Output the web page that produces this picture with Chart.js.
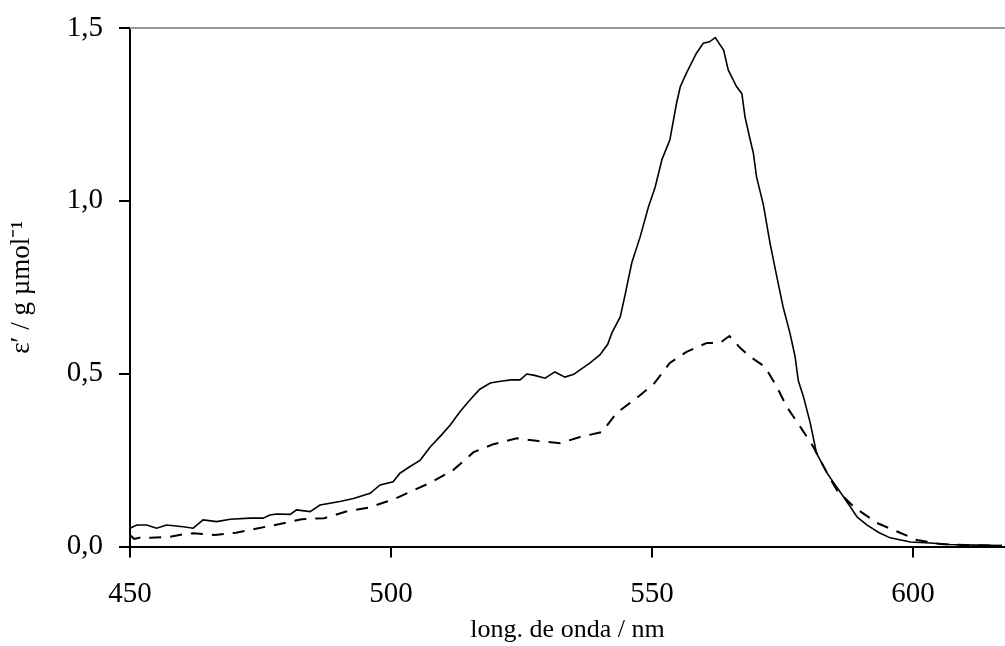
<!DOCTYPE html>
<html>
<head>
<meta charset="utf-8">
<script src="https://cdn.jsdelivr.net/npm/chart.js@4"></script>
<style>
  body { margin: 0; background: #fff; }
  #wrap { width: 1005px; height: 646px; }
</style>
</head>
<body>
<div id="wrap"><canvas id="spectrum"></canvas></div>
<script>
// wavelength (nm) / value pairs
const solidNm = [450, 451.3, 453.2, 455.1, 457, 460.2, 462.1, 464, 466.6, 469.2, 473, 475.5, 476.8, 478.1, 480.7, 481.9, 484.5, 486.4, 490.2, 492.8, 496, 497.9, 500.4, 501.7, 503.5, 505.6, 507.5, 509.5, 511.3, 513.2, 515.1, 517, 519, 521, 523, 524.7, 526, 527.5, 529.5, 531.4, 533.3, 535, 536.2, 538, 540, 541.5, 542.3, 543.9, 544.9, 546.1, 547.7, 549.3, 550.6, 551.9, 553.4, 554.7, 555.4, 556.6, 558.5, 559.8, 561, 562.1, 563.7, 564.6, 566.2, 567.2, 567.8, 568.8, 569.4, 570, 571.3, 572.6, 573.9, 575.1, 576.4, 577.4, 578, 579, 580.3, 581.5, 583.5, 584.8, 586.7, 589.3, 591.2, 593.5, 595.6, 599.5, 603.3, 607, 612, 617];
const solidVal = [0.053, 0.062, 0.062, 0.053, 0.062, 0.057, 0.053, 0.077, 0.072, 0.079, 0.082, 0.082, 0.091, 0.094, 0.093, 0.106, 0.101, 0.12, 0.13, 0.139, 0.154, 0.178, 0.187, 0.212, 0.23, 0.25, 0.288, 0.32, 0.351, 0.39, 0.424, 0.455, 0.473, 0.478, 0.482, 0.482, 0.499, 0.495, 0.487, 0.505, 0.49, 0.498, 0.511, 0.53, 0.554, 0.585, 0.618, 0.664, 0.733, 0.82, 0.895, 0.982, 1.04, 1.12, 1.176, 1.283, 1.33, 1.37, 1.427, 1.456, 1.46, 1.472, 1.436, 1.378, 1.33, 1.31, 1.243, 1.176, 1.138, 1.07, 0.99, 0.877, 0.78, 0.693, 0.618, 0.549, 0.48, 0.433, 0.357, 0.27, 0.213, 0.184, 0.143, 0.085, 0.062, 0.04, 0.025, 0.013, 0.01, 0.006, 0.004, 0.003];

const dashNm = [450, 450.8, 452.5, 454, 457.7, 460, 462.1, 464, 466.3, 470.3, 474.6, 478.7, 482.9, 487.2, 491.4, 495.8, 499.2, 501, 503.6, 507.5, 511.9, 515.8, 519.6, 524.1, 528.2, 532.4, 536.2, 540.4, 543.2, 547.4, 550.3, 553.4, 556.6, 560.5, 563, 564.8, 566.9, 568.8, 571.6, 573.9, 575.8, 578.4, 580.9, 583.5, 585.4, 588.6, 593.1, 597.6, 600.7, 605.2, 610, 617];
const dashVal = [0.033, 0.022, 0.028, 0.025, 0.028, 0.035, 0.038, 0.036, 0.033, 0.04, 0.053, 0.065, 0.079, 0.082, 0.101, 0.113, 0.13, 0.14, 0.158, 0.184, 0.221, 0.273, 0.296, 0.313, 0.305, 0.299, 0.317, 0.331, 0.386, 0.434, 0.47, 0.531, 0.563, 0.589, 0.589, 0.609, 0.574, 0.549, 0.52, 0.462, 0.404, 0.346, 0.288, 0.213, 0.163, 0.115, 0.068, 0.039, 0.019, 0.007, 0.004, 0.002];

const xTicks = [450, 500, 550, 600];
const yTicks = [0, 0.5, 1.0, 1.5];

const serif = "'Liberation Serif', 'Times New Roman', serif";

function toPoints(xs, ys) {
    return xs.map((x, i) => ({ x: x, y: ys[i] }));
}

// thin grey line along the top of the plot area
const topFrame = {
    id: 'topFrame',
    afterDraw(chart) {
        const { ctx, chartArea } = chart;
        ctx.save();
        ctx.strokeStyle = '#9a9a9a';
        ctx.lineWidth = 2;
        ctx.beginPath();
        ctx.moveTo(chartArea.left, chartArea.top);
        ctx.lineTo(chartArea.right, chartArea.top);
        ctx.stroke();
        ctx.restore();
    }
};

const ctx = document.getElementById('spectrum').getContext('2d');
new Chart(ctx, {
    type: 'line',
    data: {
        datasets: [
            {
                label: 'solid',
                data: toPoints(solidNm, solidVal),
                borderColor: '#000',
                borderWidth: 1.6,
                pointRadius: 0,
                tension: 0,
                fill: false,
            },
            {
                label: 'dashed',
                data: toPoints(dashNm, dashVal),
                borderColor: '#000',
                borderWidth: 2,
                borderDash: [12, 9],
                pointRadius: 0,
                tension: 0,
                fill: false,
            },
        ],
    },
    options: {
        responsive: true,
        maintainAspectRatio: false,
        animation: false,
        layout: { padding: { top: 28, right: 0, bottom: 0, left: 0 } },
        plugins: {
            legend: { display: false },
            tooltip: { enabled: false },
        },
        scales: {
            x: {
                type: 'linear',
                min: 450,
                max: 617.6,
                afterBuildTicks: scale => { scale.ticks = xTicks.map(v => ({ value: v })); },
                afterFit: scale => { scale.height = 99.5; },
                ticks: {
                    color: '#000',
                    padding: 19,
                    font: { family: serif, size: 29 },
                },
                grid: { drawOnChartArea: false, tickLength: 11, color: '#000', lineWidth: 2 },
                border: { color: '#000', width: 2 },
                title: {
                    display: true,
                    text: 'long. de onda / nm',
                    color: '#000',
                    padding: 0,
                    font: { family: serif, size: 26 },
                },
            },
            y: {
                min: 0,
                max: 1.5,
                afterBuildTicks: scale => { scale.ticks = yTicks.map(v => ({ value: v })); },
                afterFit: scale => {
                    scale.width = 130;
                    scale.paddingTop = 18;
                    scale.paddingBottom = 18;
                },
                ticks: {
                    color: '#000',
                    padding: 16,
                    font: { family: serif, size: 29 },
                    callback: value => value.toFixed(1).replace('.', ','),
                },
                grid: { drawOnChartArea: false, tickLength: 11, color: '#000', lineWidth: 2 },
                border: { color: '#000', width: 2 },
                title: {
                    display: true,
                    text: 'ε′ / g µmol⁻¹',
                    color: '#000',
                    padding: { top: 6, bottom: 0 },
                    font: { family: serif, size: 27 },
                },
            },
        },
    },
    plugins: [topFrame],
});
</script>
</body>
</html>
